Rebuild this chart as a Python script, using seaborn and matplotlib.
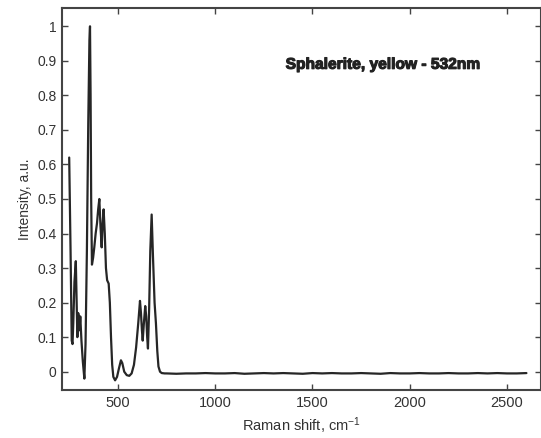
import matplotlib
matplotlib.use("Agg")
import matplotlib.pyplot as plt
import matplotlib.patheffects as pe
import seaborn as sns
import pandas as pd

# Raman spectrum of yellow sphalerite
shift = [249, 256, 262, 266, 270, 276, 283, 287, 291, 295, 299, 302, 306, 312,
         319, 327, 333, 340, 347, 353, 356, 359, 362, 366, 372, 378, 385, 392,
         398, 404, 410, 416, 421, 426, 432, 438, 444, 452, 458, 464, 470, 476,
         485, 495, 505, 515, 522, 532, 545, 558, 570, 582, 593, 604, 613, 618,
         623, 627, 633, 640, 645, 650, 654, 660, 666, 673, 680, 688, 695, 702,
         708, 716, 725, 740,
         750, 800, 850, 900, 950, 1000, 1050, 1100, 1150, 1200, 1250, 1300,
         1350, 1400, 1450, 1500, 1550, 1600, 1650, 1700, 1750, 1800, 1850,
         1900, 1950, 2000, 2050, 2100, 2150, 2200, 2250, 2300, 2350, 2400,
         2450, 2500, 2550, 2600]
intensity = [0.62, 0.35, 0.09, 0.08, 0.14, 0.26, 0.32, 0.21, 0.10, 0.17, 0.16,
             0.12, 0.16, 0.09, 0.03, -0.02, 0.08, 0.35, 0.72, 0.96, 1.00, 0.80,
             0.50, 0.31, 0.33, 0.36, 0.40, 0.43, 0.47, 0.50, 0.42, 0.36, 0.43,
             0.47, 0.40, 0.30, 0.265, 0.255, 0.20, 0.10, 0.02, -0.015, -0.025,
             -0.015, 0.01, 0.033, 0.025, 0.00, -0.01, -0.012, -0.005, 0.02, 0.07,
             0.14, 0.205, 0.17, 0.12, 0.09, 0.14, 0.19, 0.16, 0.10, 0.067, 0.18,
             0.35, 0.455, 0.33, 0.20, 0.14, 0.06, 0.015, 0.0, -0.004, -0.005,
             -0.005, -0.006, -0.005, -0.005, -0.004, -0.005, -0.005, -0.004,
             -0.006, -0.005, -0.004, -0.005, -0.004, -0.005, -0.006, -0.004,
             -0.005, -0.004, -0.005, -0.005, -0.004, -0.005, -0.006, -0.004,
             -0.005, -0.005, -0.004, -0.005, -0.005, -0.004, -0.005, -0.005,
             -0.004, -0.005, -0.004, -0.005, -0.005, -0.004]

x_ticks = [500, 1000, 1500, 2000, 2500]
x_tick_labels = ["500", "1000", "1500", "2000", "2500"]
y_ticks = [0, 0.1, 0.2, 0.3, 0.4, 0.5, 0.6, 0.7, 0.8, 0.9, 1.0]
y_tick_labels = ["0", "0.1", "0.2", "0.3", "0.4", "0.5", "0.6", "0.7", "0.8", "0.9", "1"]

annotation = "Sphalerite, yellow - 532nm"
x_label = "Raman shift, cm$^{-1}$"
y_label = "Intensity, a.u."

sns.set_style("ticks")
plt.rcParams["font.family"] = ["Liberation Sans", "DejaVu Sans"]
plt.rcParams["mathtext.fontset"] = "custom"
plt.rcParams["mathtext.rm"] = "Liberation Sans"
plt.rcParams["mathtext.it"] = "Liberation Sans"

df = pd.DataFrame({"shift": shift, "intensity": intensity})

fig = plt.figure(figsize=(5.41, 4.38), dpi=100)
ax = fig.add_axes([62 / 541, 48 / 438, 479 / 541, 382 / 438])

sns.lineplot(data=df, x="shift", y="intensity", ax=ax, color="#262626",
             linewidth=1.6, sort=False, estimator=None)

ax.set_xlim(212, 2675)
ax.set_ylim(-0.053, 1.053)
ax.set_xticks(x_ticks)
ax.set_xticklabels(x_tick_labels)
ax.set_yticks(y_ticks)
ax.set_yticklabels(y_tick_labels)

ax.tick_params(direction="in", length=4, width=1, colors="#444444",
               labelcolor="#333333", labelsize=10, top=True, right=True, pad=4)
ax.tick_params(axis="x", labelsize=10.5)
for side in ["top", "bottom", "left", "right"]:
    ax.spines[side].set_visible(True)
    ax.spines[side].set_color("#444444")
    ax.spines[side].set_linewidth(1.5)

ax.set_xlabel(x_label, fontsize=10.5, color="#333333", labelpad=4)
ax.set_ylabel(y_label, fontsize=10, color="#333333", labelpad=4)

ax.text(1362, 0.89, annotation, fontsize=11.2, fontweight="bold",
        color="#222222", ha="left", va="center",
        path_effects=[pe.withStroke(linewidth=0.8, foreground="#222222")])

fig.savefig("out.png", dpi=100, facecolor="white")
